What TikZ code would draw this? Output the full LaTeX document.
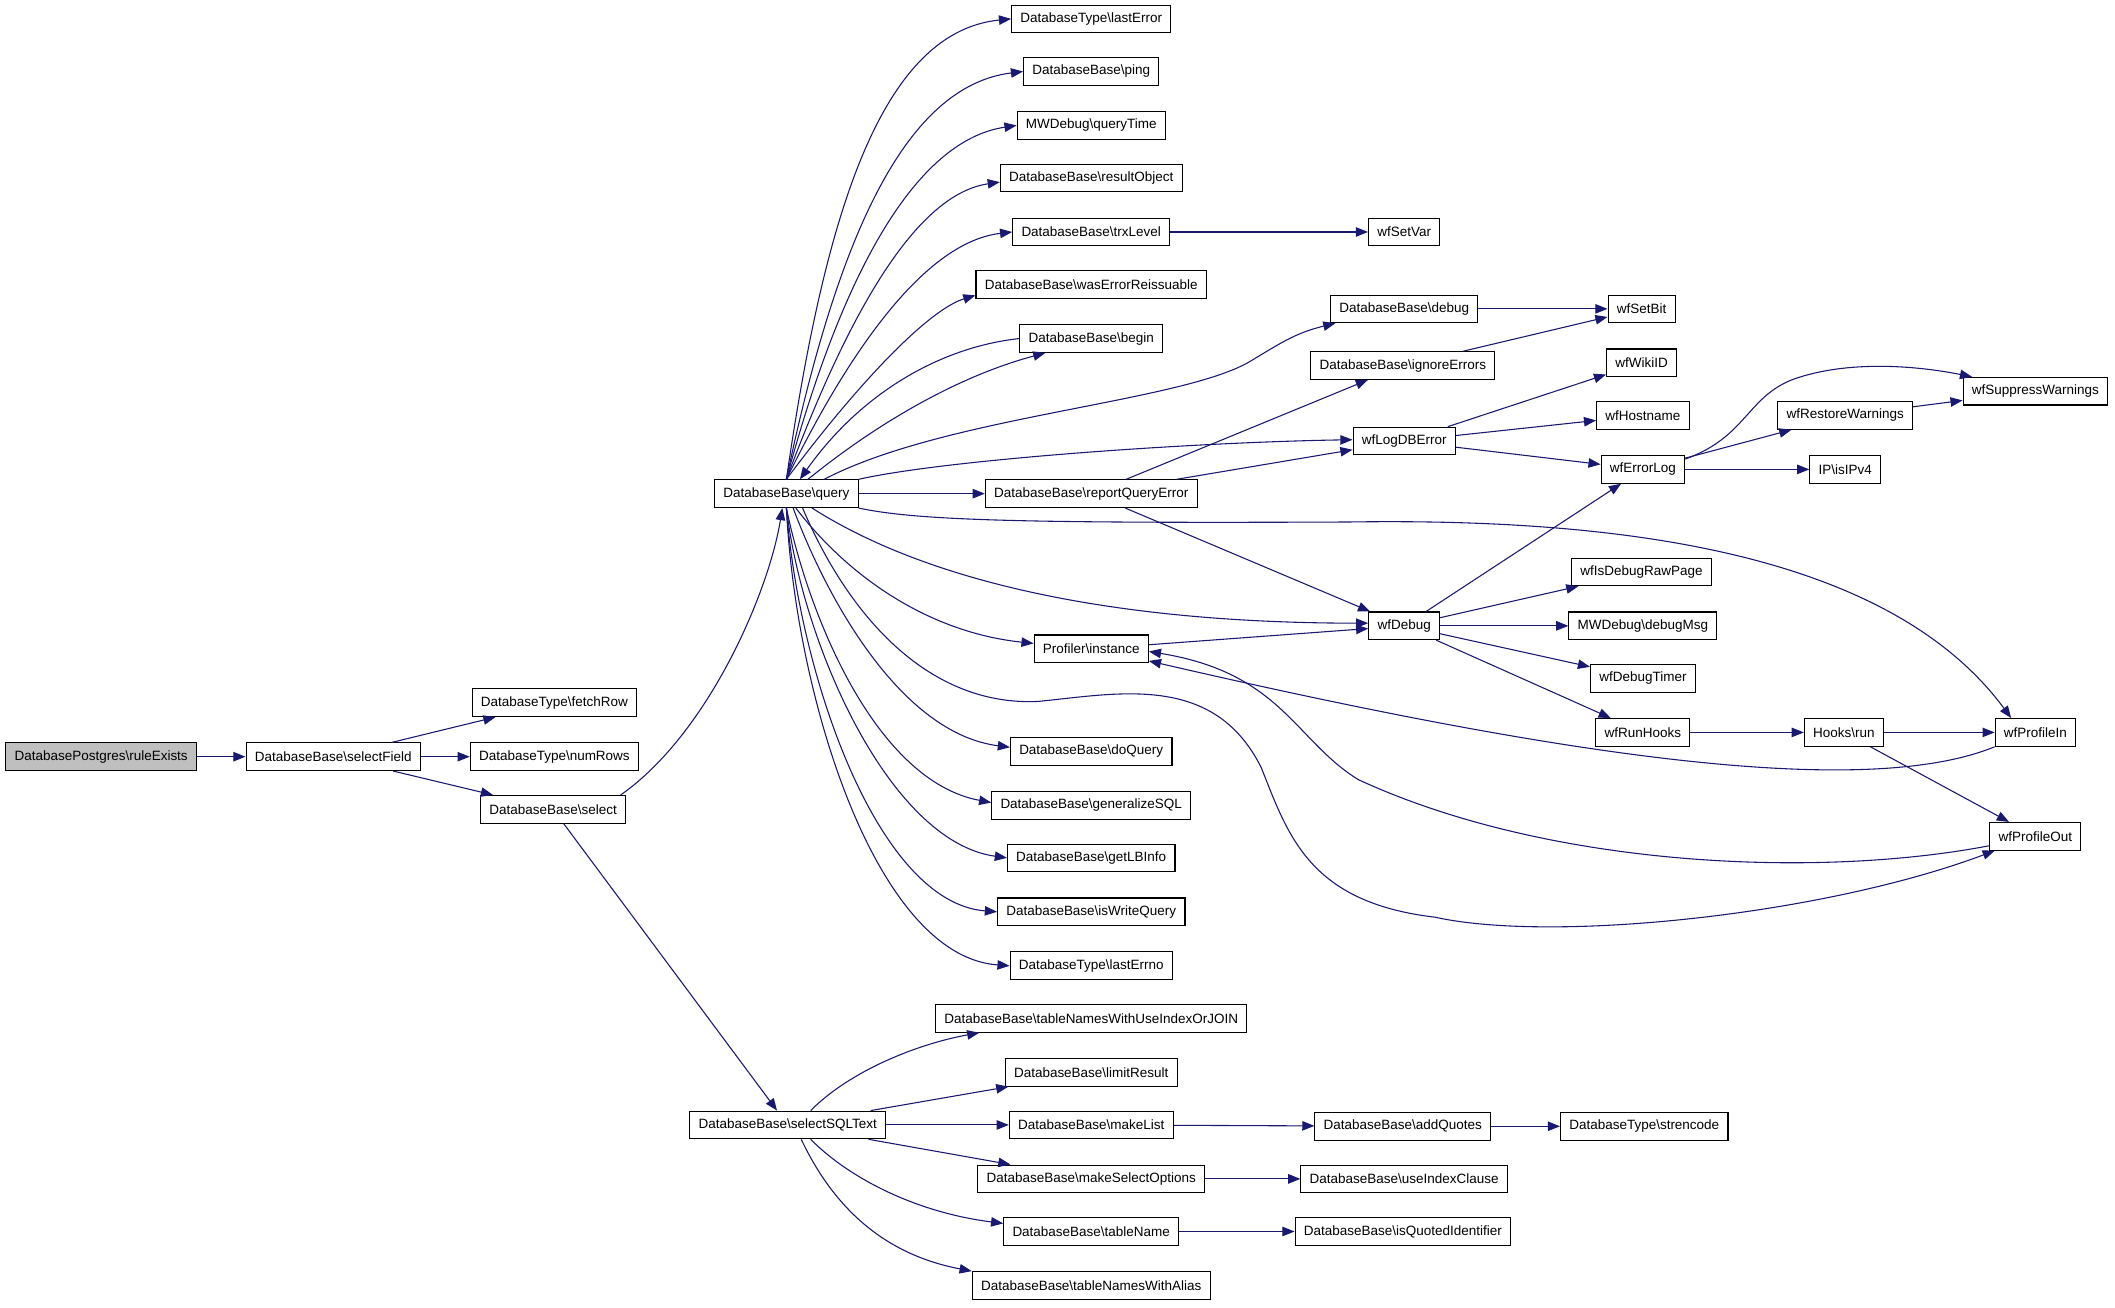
\documentclass[tikz,border=0pt]{standalone}
\usepackage{fontspec}
\setmainfont{Liberation Sans}
\usetikzlibrary{arrows.meta}
\definecolor{callblue}{HTML}{191970}
\newcommand{\bsl}{\textbackslash}

\begin{document}
\begin{tikzpicture}[x=1bp, y=1bp,
    fn/.style={draw, fill=white, line width=0.8bp, minimum height=20.5bp, inner xsep=6.5bp, inner ysep=0pt,
      font=\fontsize{10bp}{12bp}\selectfont},
    root/.style={fn, fill=black!25},
    call/.style={draw=callblue, line width=0.8bp, -{Triangle[length=9bp, width=7bp]}}]
    \useasboundingbox (0,0) rectangle (1568,969);

    \node[root] (ruleexists) at (75,408) {DatabasePostgres\bsl ruleExists};
    \node[fn] (selectfield) at (247,408) {DatabaseBase\bsl selectField};
    \node[fn] (fetchrow) at (411,448) {DatabaseType\bsl fetchRow};
    \node[fn] (numrows) at (411,408) {DatabaseType\bsl numRows};
    \node[fn] (select) at (410,369) {DatabaseBase\bsl select};
    \node[fn] (query) at (583,603) {DatabaseBase\bsl query};
    \node[fn] (selectsql) at (584,135) {DatabaseBase\bsl selectSQLText};

    \node[fn] (lasterror) at (809,955) {DatabaseType\bsl lastError};
    \node[fn] (ping) at (809,916) {DatabaseBase\bsl ping};
    \node[fn] (querytime) at (809,876) {MWDebug\bsl queryTime};
    \node[fn] (resultobject) at (809,837) {DatabaseBase\bsl resultObject};
    \node[fn] (trxlevel) at (809,797) {DatabaseBase\bsl trxLevel};
    \node[fn] (reissuable) at (809,758) {DatabaseBase\bsl wasErrorReissuable};
    \node[fn] (begin) at (809,718) {DatabaseBase\bsl begin};
    \node[fn] (reporterror) at (809,603) {DatabaseBase\bsl reportQueryError};
    \node[fn] (profiler) at (809,488) {Profiler\bsl instance};
    \node[fn] (doquery) at (809,412) {DatabaseBase\bsl doQuery};
    \node[fn] (generalize) at (809,372) {DatabaseBase\bsl generalizeSQL};
    \node[fn] (getlbinfo) at (809,333) {DatabaseBase\bsl getLBInfo};
    \node[fn] (iswrite) at (809,293) {DatabaseBase\bsl isWriteQuery};
    \node[fn] (lasterrno) at (809,253) {DatabaseType\bsl lastErrno};
    \node[fn] (useindexorjoin) at (809,214) {DatabaseBase\bsl tableNamesWithUseIndexOrJOIN};
    \node[fn] (limitresult) at (809,174) {DatabaseBase\bsl limitResult};
    \node[fn] (makelist) at (809,135) {DatabaseBase\bsl makeList};
    \node[fn] (selectoptions) at (809,95) {DatabaseBase\bsl makeSelectOptions};
    \node[fn] (tablename) at (809,56) {DatabaseBase\bsl tableName};
    \node[fn] (withalias) at (809,16) {DatabaseBase\bsl tableNamesWithAlias};

    \node[fn] (setvar) at (1041,797) {wfSetVar};
    \node[fn] (debug) at (1041,740) {DatabaseBase\bsl debug};
    \node[fn] (ignoreerrors) at (1040,698) {DatabaseBase\bsl ignoreErrors};
    \node[fn] (logdberror) at (1041,642) {wfLogDBError};
    \node[fn] (wfdebug) at (1041,505) {wfDebug};
    \node[fn] (addquotes) at (1040,134) {DatabaseBase\bsl addQuotes};
    \node[fn] (useindex) at (1041,95) {DatabaseBase\bsl useIndexClause};
    \node[fn] (isquoted) at (1040,56) {DatabaseBase\bsl isQuotedIdentifier};

    \node[fn] (setbit) at (1217,740) {wfSetBit};
    \node[fn] (wikiid) at (1217,700) {wfWikiID};
    \node[fn] (hostname) at (1218,661) {wfHostname};
    \node[fn] (errorlog) at (1218,621) {wfErrorLog};
    \node[fn] (rawpage) at (1217,545) {wfIsDebugRawPage};
    \node[fn] (debugmsg) at (1218,505) {MWDebug\bsl debugMsg};
    \node[fn] (debugtimer) at (1218,466) {wfDebugTimer};
    \node[fn] (runhooks) at (1218,426) {wfRunHooks};
    \node[fn] (strencode) at (1219,134) {DatabaseType\bsl strencode};

    \node[fn] (restore) at (1368,661) {wfRestoreWarnings};
    \node[fn] (ipv4) at (1368,621) {IP\bsl isIPv4};
    \node[fn] (hooksrun) at (1367,426) {Hooks\bsl run};
    \node[fn] (suppress) at (1509,679) {wfSuppressWarnings};
    \node[fn] (profilein) at (1509,426) {wfProfileIn};
    \node[fn] (profileout) at (1509,349) {wfProfileOut};

    \draw[call] (ruleexists) -- (selectfield);
    \draw[call] (selectfield) -- (fetchrow);
    \draw[call] (selectfield) -- (numrows);
    \draw[call] (selectfield) -- (select);
    \draw[call] ([xshift=-4bp]select.north east) .. controls (525,425) and (570,530) .. ([xshift=-3bp]query.south);
    \draw[call] (select) -- (selectsql);

    \draw[call] (query.north) .. controls (610,800) and (650,945) .. (lasterror.west);
    \draw[call] (query.north) .. controls (620,790) and (670,905) .. (ping.west);
    \draw[call] (query.north) .. controls (625,770) and (680,865) .. (querytime.west);
    \draw[call] (query.north) .. controls (630,740) and (680,825) .. ([yshift=-3bp]resultobject.west);
    \draw[call] (query.north) .. controls (635,720) and (690,790) .. (trxlevel.west);
    \draw[call] (query.north) .. controls (640,690) and (690,740) .. ([yshift=-8bp]reissuable.west);
    \draw[call] (begin.west) .. controls (700,712) and (640,680) .. ([xshift=10bp]query.north);
    \draw[call] ([xshift=16bp]query.north) .. controls (650,655) and (710,690) .. ([xshift=-34bp]begin.south);
    \draw[call] ([xshift=28bp]query.north) .. controls (700,660) and (870,670) .. (925,700)
      .. controls (950,715) and (960,722) .. ([xshift=4bp]debug.south west);
    \draw[call] (query.north east) .. controls (700,628) and (880,641) .. ([yshift=1bp]logdberror.west);
    \draw[call] (query) -- (reporterror);
    \draw[call] (query.south east) .. controls (680,583) and (760,581) .. (1000,582)
      .. controls (1200,585) and (1400,560) .. ([xshift=-18bp]profilein.north);
    \draw[call] ([xshift=19bp]query.south) .. controls (700,530) and (850,507) .. ([yshift=2bp]wfdebug.west);
    \draw[call] ([xshift=7bp]query.south) .. controls (630,540) and (690,500) .. ([yshift=4bp]profiler.west);
    \draw[call] ([xshift=5bp]query.south) .. controls (615,520) and (670,425) .. ([yshift=3bp]doquery.west);
    \draw[call] (query.south) .. controls (600,510) and (650,390) .. ([yshift=2bp]generalize.west);
    \draw[call] (query.south) .. controls (595,490) and (660,345) .. (getlbinfo.west);
    \draw[call] (query.south) .. controls (592,470) and (650,300) .. (iswrite.west);
    \draw[call] (query.south) .. controls (590,450) and (650,260) .. (lasterrno.west);
    \draw[call] ([xshift=12bp]query.south) .. controls (630,510) and (690,445) .. (770,449)
      .. controls (830,455) and (900,470) .. (935,400)
      .. controls (955,350) and (970,300) .. (1064,289)
      .. controls (1150,270) and (1350,290) .. ([xshift=4bp]profileout.south west);

    \draw[call] (reporterror) -- (ignoreerrors);
    \draw[call] (reporterror) -- (logdberror);
    \draw[call] (reporterror) -- (wfdebug);
    \draw[call] (trxlevel) -- (setvar);
    \draw[call] (debug) -- (setbit);
    \draw[call] (ignoreerrors) -- (setbit);
    \draw[call] (logdberror) -- (wikiid);
    \draw[call] (logdberror) -- (hostname);
    \draw[call] (logdberror) -- (errorlog);
    \draw[call] ([yshift=3bp]profiler.east) -- ([yshift=-2bp]wfdebug.west);
    \draw[call] (wfdebug) -- (errorlog);
    \draw[call] (wfdebug) -- (rawpage);
    \draw[call] (wfdebug) -- (debugmsg);
    \draw[call] (wfdebug) -- (debugtimer);
    \draw[call] (wfdebug) -- (runhooks);
    \draw[call] ([yshift=-3bp]errorlog.north east) .. controls (1295,645) and (1295,675) .. (1330,688)
      .. controls (1370,702) and (1420,698) .. ([xshift=7bp]suppress.north west);
    \draw[call] (errorlog) -- (restore);
    \draw[call] (errorlog) -- (ipv4);
    \draw[call] (restore) -- (suppress);
    \draw[call] (runhooks) -- (hooksrun);
    \draw[call] (hooksrun) -- (profilein);
    \draw[call] (hooksrun) -- (profileout);
    \draw[call] ([yshift=-7bp]profileout.west) .. controls (1350,318) and (1150,325) .. (1007,391)
      .. controls (960,420) and (950,470) .. ([yshift=-2bp]profiler.east);
    \draw[call] (profilein.south west) .. controls (1380,375) and (1150,410) .. ([yshift=-9bp]profiler.east);

    \draw[call] ([xshift=17bp]selectsql.north) .. controls (630,175) and (680,195) .. ([xshift=-83bp]useindexorjoin.south);
    \draw[call] (selectsql) -- (limitresult);
    \draw[call] (selectsql) -- (makelist);
    \draw[call] (selectsql) -- (selectoptions);
    \draw[call] ([xshift=17bp]selectsql.south) .. controls (630,95) and (680,70) .. ([yshift=6bp]tablename.west);
    \draw[call] ([xshift=10bp]selectsql.south) .. controls (615,80) and (650,40) .. (withalias.north west);
    \draw[call] (makelist) -- (addquotes);
    \draw[call] (addquotes) -- (strencode);
    \draw[call] (selectoptions) -- (useindex);
    \draw[call] (tablename) -- (isquoted);
\end{tikzpicture}
\end{document}
